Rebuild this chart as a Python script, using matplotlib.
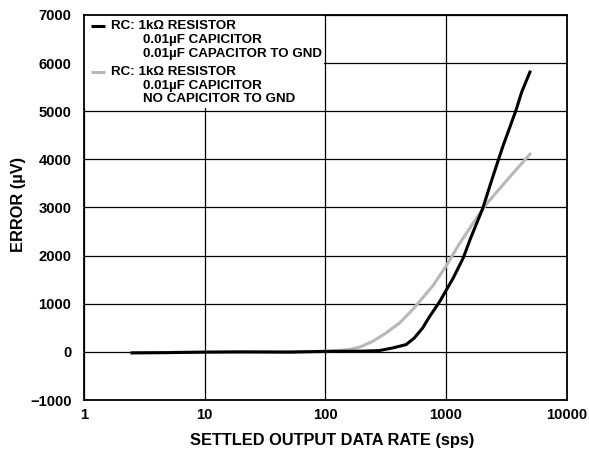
import matplotlib
matplotlib.use('Agg')
import matplotlib.pyplot as plt
from matplotlib.patches import Rectangle

plt.rcParams.update({'font.family': ['Liberation Sans', 'DejaVu Sans'],
                     'font.weight': 'bold',
                     'font.size': 10})

# ---- data ------------------------------------------------------
black_x = [2.5, 5, 10, 20, 50, 100, 200, 280, 361, 467, 546, 640, 718, 888,
           1146, 1386, 1610, 2009, 2433, 2944, 3800, 4240, 4966]
black_y = [-20, -15, -5, 0, -5, 10, 15, 27, 81, 151, 288, 495, 702, 1047,
           1530, 1944, 2379, 2967, 3621, 4250, 5015, 5396, 5812]

gray_x = [2.5, 10, 100, 158, 191, 247, 318, 411, 528, 621, 782, 1006, 1298,
          1560, 2009, 2285, 3343, 4966]
gray_y = [-20, -5, 10, 48, 95, 219, 391, 598, 876, 1083, 1380, 1790, 2255,
          2553, 2967, 3139, 3621, 4106]

x_ticks = [1, 10, 100, 1000, 10000]
x_tick_labels = ['1', '10', '100', '1000', '10000']
y_ticks = [-1000, 0, 1000, 2000, 3000, 4000, 5000, 6000, 7000]
y_tick_labels = ['\u22121000', '0', '1000', '2000', '3000', '4000', '5000',
                 '6000', '7000']

legend_lines = [
    ['RC: 1k\u03a9 RESISTOR', '0.01\u00b5F CAPICITOR', '0.01\u00b5F CAPACITOR TO GND'],
    ['RC: 1k\u03a9 RESISTOR', '0.01\u00b5F CAPICITOR', 'NO CAPICITOR TO GND'],
]
colors = ['black', '#b8b8b8']

# ---- figure ----------------------------------------------------
fig = plt.figure(figsize=(5.89, 4.51), dpi=100)
ax = fig.add_axes([0.1426, 0.113, 0.8194, 0.854])

ax.plot(gray_x, gray_y, color=colors[1], lw=2.2, zorder=3)
ax.plot(black_x, black_y, color=colors[0], lw=2.2, zorder=4)

ax.set_xscale('log')
ax.set_xlim(1, 10000)
ax.set_ylim(-1000, 7000)
ax.set_xticks(x_ticks)
ax.set_xticklabels(x_tick_labels)
ax.set_yticks(y_ticks)
ax.set_yticklabels(y_tick_labels)
ax.minorticks_off()
ax.tick_params(length=0, labelsize=10.6)
ax.tick_params(axis='y', pad=9)
ax.tick_params(axis='x', pad=6)

ax.set_axisbelow(True)
ax.grid(True, color='black', lw=0.9)
for s in ax.spines.values():
    s.set_linewidth(1.3)

ax.set_xlabel('SETTLED OUTPUT DATA RATE (sps)', fontsize=11.8, fontweight='bold',
              va='center')
ax.set_ylabel('ERROR (\u00b5V)', fontsize=11.8, fontweight='bold',
              va='center', ha='center')
ax.xaxis.set_label_coords(0.515, -0.104)
ax.yaxis.set_label_coords(-0.135, 0.509)

# ---- legend box ------------------------------------------------
ax.add_patch(Rectangle((0, 0.758), 0.497, 0.242, transform=ax.transAxes,
                       facecolor='white', edgecolor='none', zorder=1))

line_step = 0.0358
entry_tops = [0.970, 0.852]
for k in range(2):
    y0 = entry_tops[k]
    ax.plot([0.014, 0.043], [y0, y0], transform=ax.transAxes,
            color=colors[k], lw=2.2, zorder=5, solid_capstyle='butt')
    for j, txt in enumerate(legend_lines[k]):
        x0 = 0.056 if j == 0 else 0.122
        ax.text(x0, y0 - j * line_step, txt, transform=ax.transAxes,
                fontsize=9.6, fontweight='bold', va='center', ha='left', zorder=5)

fig.savefig('out.png', dpi=100)
